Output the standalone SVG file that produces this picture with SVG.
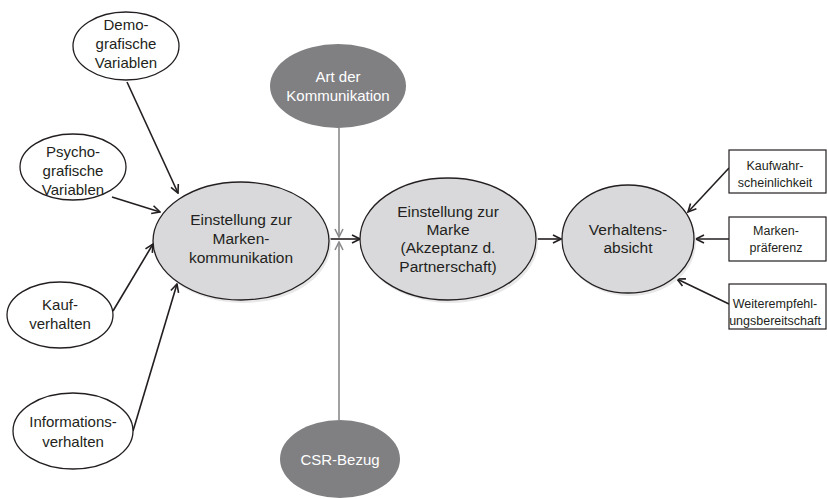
<svg xmlns="http://www.w3.org/2000/svg" width="827" height="499" viewBox="0 0 827 499">
<defs>
<style>
.t{font-family:"Liberation Sans",Arial,sans-serif;fill:#231f20;text-anchor:middle}
.s15{font-size:15.5px}
.s14{font-size:15px}
.s11{font-size:12.5px}
.w{fill:#ffffff}
.small{fill:#ffffff;stroke:#231f20;stroke-width:1.3}
.big{fill:#d9d9db;stroke:#231f20;stroke-width:1.3}
.dark{fill:#808083;stroke:none}
.sh{fill:#e8e8e8;stroke:none}
.box{fill:#ffffff;stroke:#231f20;stroke-width:1.2}
.c{stroke:#231f20;stroke-width:1.6;fill:none;marker-end:url(#a)}
.g{stroke:#8a8a8c;stroke-width:1.6;fill:none;marker-end:url(#ag)}
</style>
<marker id="a" viewBox="0 0 10 10" refX="9" refY="5" markerWidth="10" markerHeight="10" markerUnits="userSpaceOnUse" orient="auto">
<path d="M1,1 L9,5 L1,9" fill="none" stroke="#231f20" stroke-width="1.6"/>
</marker>
<marker id="ag" viewBox="0 0 10 10" refX="9" refY="5" markerWidth="10" markerHeight="10" markerUnits="userSpaceOnUse" orient="auto">
<path d="M1,1 L9,5 L1,9" fill="none" stroke="#8a8a8c" stroke-width="1.6"/>
</marker>
</defs>
<rect width="827" height="499" fill="#ffffff"/>

<g id="connectors">
<line class="c" x1="127" y1="82" x2="178" y2="193"/>
<line class="c" x1="112" y1="197" x2="160" y2="212"/>
<line class="c" x1="113" y1="311" x2="153" y2="244"/>
<line class="c" x1="133" y1="431" x2="177" y2="284"/>
<line class="g" x1="339" y1="128" x2="339" y2="237"/>
<line class="g" x1="339" y1="420" x2="339" y2="242"/>
<line class="c" x1="330" y1="239" x2="360" y2="239"/>
<line class="c" x1="536" y1="239" x2="561" y2="239"/>
<line class="c" x1="729" y1="168" x2="688" y2="212"/>
<line class="c" x1="729" y1="239" x2="696" y2="239"/>
<line class="c" x1="729" y1="304" x2="677" y2="279"/>
</g>

<g id="demografische">
<ellipse class="small" cx="126" cy="46" rx="53" ry="34"/>
<text class="t s14" x="126" y="30">Demo-</text>
<text class="t s14" x="126" y="49">grafische</text>
<text class="t s14" x="126" y="68">Variablen</text>
</g>

<g id="psychografische">
<ellipse class="small" cx="73" cy="167" rx="53" ry="33"/>
<text class="t s14" x="73" y="157">Psycho-</text>
<text class="t s14" x="73" y="176">grafische</text>
<text class="t s14" x="73" y="195">Variablen</text>
</g>

<g id="kaufverhalten">
<ellipse class="small" cx="60" cy="315" rx="53" ry="33"/>
<text class="t s14" x="60" y="310">Kauf-</text>
<text class="t s14" x="60" y="329">verhalten</text>
</g>

<g id="informationsverhalten">
<ellipse class="small" cx="73" cy="431" rx="60" ry="38"/>
<text class="t s14" x="73" y="427">Informations-</text>
<text class="t s14" x="73" y="447">verhalten</text>
</g>

<g id="markenkommunikation">
<ellipse class="sh" cx="243" cy="244" rx="88" ry="59"/>
<ellipse class="big" cx="241" cy="241" rx="88" ry="59"/>
<text class="t s15" x="241" y="225">Einstellung zur</text>
<text class="t s15" x="241" y="244">Marken-</text>
<text class="t s15" x="241" y="263">kommunikation</text>
</g>

<g id="art">
<ellipse class="dark" cx="338" cy="86" rx="68" ry="42"/>
<text class="t s14 w" x="338" y="82">Art der</text>
<text class="t s14 w" x="338" y="101">Kommunikation</text>
</g>

<g id="csr">
<ellipse class="dark" cx="340" cy="459" rx="60" ry="39"/>
<text class="t s14 w" x="340" y="465">CSR-Bezug</text>
</g>

<g id="marke">
<ellipse class="sh" cx="450" cy="242" rx="88" ry="61"/>
<ellipse class="big" cx="448" cy="239" rx="88" ry="61"/>
<text class="t s15" x="448" y="217">Einstellung zur</text>
<text class="t s15" x="448" y="235">Marke</text>
<text class="t s15" x="448" y="253">(Akzeptanz d.</text>
<text class="t s15" x="448" y="272">Partnerschaft)</text>
</g>

<g id="verhaltensabsicht">
<ellipse class="sh" cx="630" cy="242" rx="66" ry="54"/>
<ellipse class="big" cx="628" cy="239" rx="66" ry="54"/>
<text class="t s15" x="628" y="235">Verhaltens-</text>
<text class="t s15" x="628" y="253">absicht</text>
</g>

<g id="kaufwahrscheinlichkeit">
<rect class="box" x="729" y="150" width="97" height="43"/>
<text class="t s11" x="775" y="169.5">Kaufwahr-</text>
<text class="t s11" x="775" y="186.5">scheinlichkeit</text>
</g>

<g id="markenpraeferenz">
<rect class="box" x="729" y="217" width="97" height="44"/>
<text class="t s11" x="776" y="234.5">Marken-</text>
<text class="t s11" x="776" y="251.5">präferenz</text>
</g>

<g id="weiterempfehlung">
<rect class="box" x="729" y="284" width="97" height="45"/>
<text class="t s11" x="775" y="307.5">Weiterempfehl-</text>
<text class="t s11" x="775" y="324.5">ungsbereitschaft</text>
</g>
</svg>
